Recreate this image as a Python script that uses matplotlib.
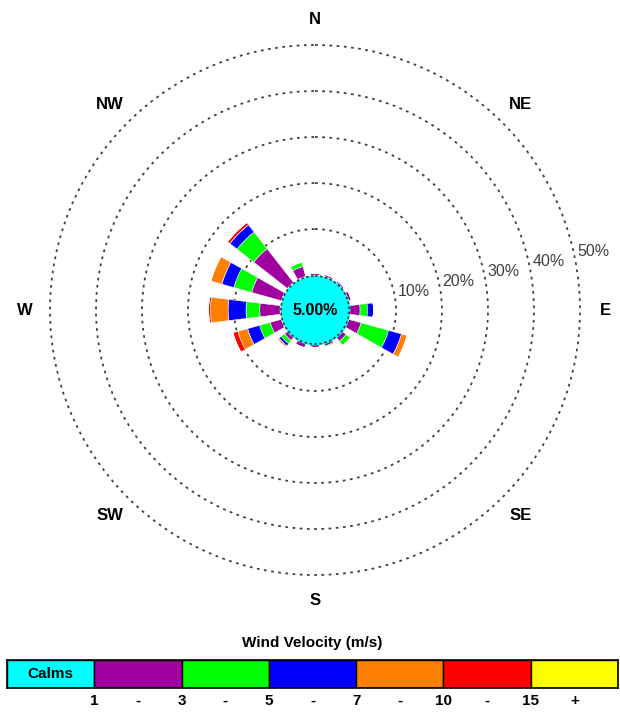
import matplotlib
matplotlib.use('Agg')
import matplotlib.pyplot as plt
import numpy as np

plt.rcParams['font.family'] = ['Liberation Sans', 'DejaVu Sans']

# =============================================================================
# # data (percent of time per direction and speed class)
# =============================================================================
directions = ['N', 'NNE', 'NE', 'ENE', 'E', 'ESE', 'SE', 'SSE',
              'S', 'SSW', 'SW', 'WSW', 'W', 'WNW', 'NW', 'NNW']
spd_1_3 = [0.4, 0.4, 0.4, 0.6, 2.2, 2.8, 1.0, 0.5, 0.5, 0.9, 0.8, 2.5, 4.4, 6.7, 9.3, 2.2]
spd_3_5 = [0.0, 0.0, 0.0, 0.0, 1.6, 6.2, 1.2, 0.3, 0.0, 0.0, 0.9, 2.4, 3.0, 4.0, 4.6, 1.0]
spd_5_7 = [0.0, 0.0, 0.0, 0.0, 1.3, 2.9, 0.0, 0.0, 0.0, 0.0, 0.6, 2.7, 3.9, 2.7, 2.0, 0.0]
spd_7_10 = [0.0, 0.0, 0.0, 0.0, 0.0, 1.3, 0.0, 0.0, 0.0, 0.0, 0.4, 2.2, 3.8, 2.5, 0.0, 0.0]
spd_10_15 = [0.0, 0.0, 0.0, 0.0, 0.0, 0.0, 0.0, 0.0, 0.0, 0.0, 0.0, 1.1, 0.4, 0.0, 0.6, 0.0]
spd_15p = [0.0] * 16
calms = 5.00

classes = [spd_1_3, spd_3_5, spd_5_7, spd_7_10, spd_10_15, spd_15p]
colors = ['#A000A0', '#00FF00', '#0000FF', '#FF8000', '#FF0000', '#FFFF00']
calm_color = '#00FFFF'
rings = [10, 20, 30, 40, 50]
compass = ['N', 'NE', 'E', 'SE', 'S', 'SW', 'W', 'NW']
bin_labels = ['1', '-', '3', '-', '5', '-', '7', '-', '10', '-', '15', '+']

theta = np.deg2rad(np.arange(16) * 22.5)
rmin, rmax = -7.6, 52.0

fig = plt.figure(figsize=(6.2, 7.13), dpi=100)
ax = fig.add_axes([0.0658, 0.1806, 0.8845, 0.7692], projection='polar')
ax.set_theta_zero_location('N')
ax.set_theta_direction(-1)
ax.set_ylim(rmin, rmax)

# =============================================================================
# # petals
# =============================================================================
bottom = np.zeros(16)
for vals, c in zip(classes, colors):
    vals = np.array(vals)
    ax.bar(theta, vals, width=np.deg2rad(14), bottom=bottom, color=c,
           edgecolor='white', linewidth=0.35, zorder=2)
    bottom = bottom + vals

# calms circle
tt = np.linspace(0, 2 * np.pi, 300)
ax.fill_between(tt, rmin, -0.2, color=calm_color, zorder=3)
ax.plot(tt, np.full_like(tt, -0.2), color='#303030', lw=1.2,
        ls=(0, (1.5, 1.5)), zorder=4)
ax.text(0, rmin, f'{calms:.2f}%', ha='center', va='center',
        fontsize=11.5, fontweight='bold', zorder=5)

# =============================================================================
# # rings and labels
# =============================================================================
ax.set_yticks(rings)
ax.set_yticklabels([])
ax.set_xticks([])
ax.yaxis.grid(True, color='#404040', lw=1.3, ls=(0, (1.5, 2.5)))
ax.xaxis.grid(False)
for s in ax.spines.values():
    s.set_visible(False)
ax.patch.set_visible(False)

for v in rings:
    ax.text(np.deg2rad(77.5), v + 0.8, f'{v}%', ha='left', va='center',
            fontsize=11.5, color='#404040')

for i, lab in enumerate(compass):
    ax.text(np.deg2rad(i * 45), 55.5, lab, ha='center', va='center',
            fontsize=12, fontweight='bold', clip_on=False)

# =============================================================================
# # legend bar
# =============================================================================
lax = fig.add_axes([7 / 620, 25 / 713, 611 / 620, 28 / 713])
legend_colors = [calm_color] + colors
for i, c in enumerate(legend_colors):
    lax.bar(i + 0.5, 1, width=1, color=c, edgecolor='black', linewidth=1)
lax.set_xlim(0, 7)
lax.set_ylim(0, 1)
lax.set_xticks([])
lax.set_yticks([])
for s in lax.spines.values():
    s.set_linewidth(1.2)
lax.text(0.5, 0.5, 'Calms', ha='center', va='center', fontsize=11,
         fontweight='bold')
lax.set_title('Wind Velocity (m/s)', fontsize=11, fontweight='bold', pad=9)
for j, lab in enumerate(bin_labels):
    lax.text(1 + j * 0.5, -0.45, lab, ha='center', va='center',
             fontsize=11, fontweight='bold', transform=lax.transData,
             clip_on=False)

plt.savefig('out.png', dpi=100)
